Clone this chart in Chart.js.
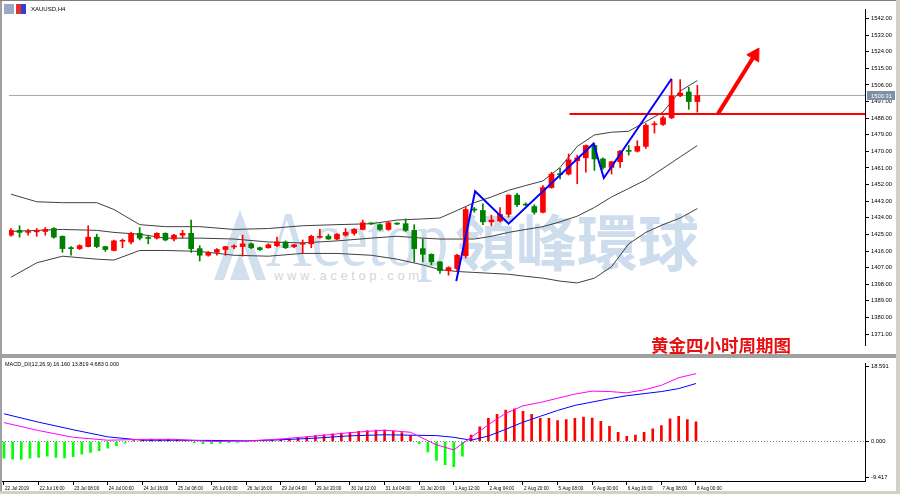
<!DOCTYPE html>
<html>
<head>
<meta charset="utf-8">
<script src="https://cdn.jsdelivr.net/npm/chart.js@4.4.1/dist/chart.umd.min.js"></script>
<style>
html, body { margin: 0; padding: 0; background: #fff; }
#wrap { position: relative; width: 900px; height: 494px; overflow: hidden; background: #fff; font-family: "Liberation Sans", Arial, sans-serif; }
canvas { position: absolute; left: 0; }
#main { top: 0; }
#macd { top: 358px; }
.abs { position: absolute; white-space: nowrap; }
</style>
</head>
<body>
<div id="wrap">
  <!-- watermark -->
  <svg class="abs" style="left:212px;top:208px" width="58" height="74">
    <polygon points="2,72 28,2 54,72 44,72 28,26 12,72" fill="#d2e0ed"/>
    <polygon points="18,72 28,44 38,72" fill="#d2e0ed"/>
  </svg>
  <div class="abs" style="left:266px;top:200px;font:78px/1 'Liberation Serif',serif;color:#d0dfed;transform:scaleX(0.81);transform-origin:0 0">Acetop</div>
  <div class="abs" style="left:455px;top:209px;font:bold 61px/1 'Noto Sans CJK TC',sans-serif;color:#cddded">領峰環球</div>
  <div class="abs" style="left:274px;top:269px;font:13px/13px 'Liberation Sans',sans-serif;letter-spacing:3.6px;color:#d6d6d6">www.acetop.com</div>

  <canvas id="main" width="900" height="354"></canvas>
  <canvas id="macd" width="900" height="136"></canvas>

  <!-- frame -->
  <div class="abs" style="left:0;top:0;width:2px;height:494px;background:#a0a0a0"></div>
  <div class="abs" style="left:0;top:0;width:900px;height:1px;background:#808080"></div>
  <div class="abs" style="left:0;top:354px;width:900px;height:4px;background:#a0a0a0"></div>
  <div class="abs" style="left:0;top:491px;width:900px;height:3px;background:#d4d0c8"></div>
  <div class="abs" style="left:896px;top:0;width:4px;height:494px;background:#d4d0c8"></div>

  <!-- title, labels -->
  <div class="abs" style="left:4px;top:4px;width:10px;height:10px;background:#9aa9c8"></div>
  <div class="abs" style="left:16px;top:4px;width:10px;height:10px;background:linear-gradient(90deg,#e03030 50%,#3040d0 50%)"></div>
  <div class="abs" style="left:31px;top:5px;font:6px/8px 'Liberation Sans',sans-serif;color:#000">XAUUSD,H4</div>
  <div class="abs" style="left:5px;top:361px;font:5.5px/7px 'Liberation Sans',sans-serif;color:#000">MACD_DI(12,26,9) 16.160 13.819 4.683 0.000</div>
  <div class="abs" style="left:651px;top:335px;font:bold 17.5px/20px 'Noto Sans CJK SC',sans-serif;color:#e81010">黄金四小时周期图</div>
</div>

<script>
// candles, H4, index 0 = 22 Jul 2019 00:00
const opens  = [1424.6,1427.2,1426.1,1426.4,1426.6,1428.2,1424.0,1417.8,1417.3,1418.4,1423.5,1418.4,1416.3,1421.3,1420.9,1425.6,1423.1,1423.0,1425.6,1422.5,
                1424.6,1425.6,1417.3,1413.7,1415.3,1416.8,1418.2,1418.4,1419.9,1417.8,1417.8,1418.9,1420.9,1418.4,1419.7,1419.9,1423.4,1424.0,1422.5,1424.6,
                1425.6,1427.7,1430.9,1430.3,1427.7,1430.9,1430.8,1427.2,1417.3,1414.2,1410.1,1405.4,1406.5,1413.5,1438.6,1438.0,1431.8,1432.3,1435.9,1446.3,
                1441.2,1440.1,1437.0,1450.4,1457.9,1457.7,1464.9,1466.5,1473.2,1465.9,1461.3,1464.4,1470.3,1470.1,1472.7,1484.4,1484.6,1488.2,1500.1,1502.2,1497.0];
const highs  = [1428.2,1429.7,1427.7,1428.2,1428.7,1428.7,1424.2,1418.4,1419.4,1429.7,1425.1,1418.6,1422.0,1422.5,1426.1,1428.7,1424.6,1425.9,1425.9,1425.1,
                1427.2,1432.8,1418.9,1415.8,1417.3,1418.6,1419.4,1424.6,1420.4,1418.2,1419.9,1423.5,1421.5,1419.6,1422.0,1424.6,1427.7,1425.1,1425.4,1428.2,
                1428.2,1432.8,1431.3,1430.8,1431.8,1431.3,1433.4,1430.3,1422.5,1414.5,1410.3,1407.5,1414.2,1439.6,1439.6,1441.6,1435.4,1439.6,1446.5,1447.3,
                1442.1,1441.1,1451.5,1458.7,1460.8,1468.6,1468.0,1473.5,1474.2,1466.5,1464.6,1470.6,1473.2,1475.8,1485.1,1486.1,1489.2,1508.9,1508.9,1504.7,1505.8];
const lows   = [1424.0,1423.5,1424.6,1424.0,1424.6,1423.0,1415.3,1413.7,1416.8,1418.2,1417.8,1415.8,1416.0,1417.8,1419.9,1422.0,1419.9,1422.5,1421.5,1421.5,
                1423.0,1415.3,1410.6,1413.2,1413.7,1413.7,1417.3,1413.2,1417.3,1416.3,1417.5,1418.4,1417.3,1417.8,1414.7,1417.8,1423.0,1422.3,1422.2,1424.0,
                1424.6,1427.4,1430.3,1427.2,1427.2,1430.3,1426.6,1410.1,1410.1,1408.5,1403.9,1402.9,1404.9,1412.2,1437.0,1430.3,1429.7,1431.8,1434.4,1440.1,
                1440.6,1435.9,1436.7,1450.0,1455.1,1457.2,1452.5,1458.7,1459.7,1460.3,1457.7,1461.3,1468.0,1469.6,1471.6,1479.9,1484.1,1487.7,1499.6,1492.8,1491.3];
const closes = [1427.2,1426.1,1426.6,1426.8,1427.7,1423.5,1417.3,1417.3,1418.9,1423.5,1418.4,1416.8,1421.5,1421.6,1425.6,1423.0,1422.8,1425.6,1422.0,1424.6,
                1425.6,1417.3,1413.7,1415.3,1416.8,1418.4,1418.5,1419.9,1417.8,1416.8,1419.4,1420.9,1417.8,1419.4,1420.0,1424.0,1423.7,1422.5,1425.1,1426.1,
                1427.7,1431.3,1430.7,1427.7,1431.3,1430.6,1427.2,1417.3,1414.2,1410.1,1405.4,1407.0,1413.7,1438.5,1438.2,1431.8,1432.8,1435.9,1446.3,1441.1,
                1440.9,1437.0,1450.4,1457.7,1457.4,1465.4,1466.5,1473.2,1465.9,1461.3,1464.4,1470.1,1470.0,1472.7,1484.1,1484.8,1488.2,1500.1,1501.6,1497.0,1500.31];
const lastPrice = 1500.31;

// bollinger bands
const bbIdx   = [0,3,6,10,12,15,18,22,26,30,34,38,42,45,48,50,52,54,56,58,60,62,64,66,68,70,72,74,76,78,80];
const bbUpper = [1446.8,1442.7,1442.2,1442.2,1438.5,1430.3,1429.2,1429.2,1427.7,1428.2,1429.7,1430.3,1430.8,1432.8,1433.4,1433.9,1438.0,1442.2,1445.3,1448.9,1451.5,1454.0,1461.3,1472.7,1478.9,1480.4,1480.9,1486.1,1491.3,1502.7,1508.4];
const bbMid   = [1426.6,1427.2,1427.7,1427.2,1426.1,1425.1,1423.0,1423.0,1422.5,1420.9,1420.4,1421.5,1423.0,1424.0,1423.0,1422.5,1422.5,1422.5,1424.0,1426.1,1427.7,1429.2,1431.8,1434.9,1439.6,1445.3,1449.9,1454.6,1460.8,1467.0,1473.2];
const bbLower = [1401.8,1409.6,1413.2,1411.6,1411.1,1416.3,1416.3,1415.8,1413.7,1413.2,1414.7,1414.7,1413.7,1411.6,1408.5,1405.9,1404.9,1404.4,1403.9,1403.4,1402.3,1401.3,1399.7,1398.7,1401.3,1407.5,1419.9,1426.1,1430.3,1433.9,1439.0];

// hand drawn marks
const zigIdx   = [51.9, 54.1, 58.0, 67.9, 69.1, 77.0];
const zigPrice = [1399.7, 1448.4, 1430.8, 1474.2, 1455.6, 1509.4];
const levelIdx = [65.1, 99.6];
const levelPrice = 1490.3;
const arrowIdx   = [82.4, 86.7];
const arrowPrice = [1490.3, 1522.3];

// MACD pane
const macdHist = [-4.0,-4.2,-4.3,-4.0,-3.8,-3.5,-3.8,-3.9,-3.6,-3.0,-2.6,-2.2,-1.6,-1.0,-0.4,0.2,0.4,0.6,0.5,0.6,
                  0.4,0.2,-0.3,-0.5,-0.5,-0.4,-0.3,-0.2,-0.1,0.1,0.2,0.3,0.5,0.7,0.9,1.1,1.4,1.6,1.8,2.0,
                  2.2,2.4,2.6,2.7,2.7,2.5,2.1,1.4,-0.5,-2.5,-4.5,-5.5,-6.0,-3.5,1.5,3.5,5.5,6.5,7.5,7.8,
                  7.2,6.5,5.5,5.5,5.0,5.2,5.5,5.8,5.6,4.8,3.6,2.2,1.2,1.5,2.2,3.0,3.8,5.4,6.0,5.2,4.683];
const macdIdx    = [0,4,8,12,16,20,24,28,32,36,40,44,47,50,52,54,56,58,60,62,64,66,68,70,72,74,76,78,80];
const macdMain   = [4.5,2.6,1.0,0.3,0.5,0.5,0.0,0.1,0.6,1.3,2.1,2.7,2.2,-0.8,-2.0,1.0,4.0,6.7,8.5,9.3,10.3,11.3,12.0,11.9,11.6,12.3,13.4,15.2,16.16];
const macdSignal = [6.6,4.6,2.8,1.1,0.3,0.3,0.25,0.15,0.4,0.8,1.35,1.6,1.5,1.4,1.0,0.3,1.3,2.9,4.6,6.0,7.4,8.6,9.4,10.2,10.9,11.4,11.9,12.6,13.819];
const macdMin = -9.417, macdMax = 18.591;
const macdTickLabels = ['-9.417', '0.000', '18.591'];

const xTickIdx = [0,4,8,12,16,20,24,28,32,36,40,44,48,52,56,60,64,68,72,76,80];
const xLabels = ['22 Jul 2019','22 Jul 16:00','23 Jul 08:00','24 Jul 00:00','24 Jul 16:00','25 Jul 08:00','26 Jul 00:00',
                 '26 Jul 16:00','29 Jul 04:00','29 Jul 20:00','30 Jul 12:00','31 Jul 04:00','31 Jul 20:00','1 Aug 12:00',
                 '2 Aug 04:00','2 Aug 20:00','5 Aug 08:00','6 Aug 00:00','6 Aug 16:00','7 Aug 08:00','8 Aug 00:00'];
const priceTicks = [1371,1380,1389,1398,1407,1416,1425,1434,1443,1452,1461,1470,1479,1488,1497,1506,1515,1524,1533,1542];

const X_MIN = -0.23, X_MAX = 99.54;
const UP = '#ff0000', DOWN = '#008000';
const FONT = "'Liberation Sans', Arial, sans-serif";

const pts = (xs, ys) => xs.map((x, i) => ({ x: x, y: Array.isArray(ys) ? ys[i] : ys }));
const isUp = i => closes[i] >= opens[i];

const bodies = opens.map((o, i) => ({ x: i, y: [o, closes[i]] }));
const wicks = opens.map((o, i) => ({ x: i, y: [lows[i], highs[i]] }));

const priceBox = {
    id: 'priceBox',
    afterDraw(chart) {
        const c = chart.ctx, a = chart.chartArea;
        const y = chart.scales.y.getPixelForValue(lastPrice);
        c.save();
        c.fillStyle = '#7d90a8';
        c.fillRect(a.right + 2, y - 4.5, 28, 9);
        c.fillStyle = '#fff';
        c.font = '5.8px ' + FONT;
        c.textBaseline = 'middle';
        c.fillText(lastPrice.toFixed(2), a.right + 6, y + 0.5);
        c.restore();
    }
};

Chart.defaults.font.family = FONT;

// 1. main price pane
new Chart(document.getElementById('main'), {
    type: 'bar',
    data: {
        datasets: [
            { type: 'line', data: pts(zigIdx, zigPrice), borderColor: '#0000ff', borderWidth: 2, pointRadius: 0, order: 0 },
            { type: 'line', data: pts(levelIdx, levelPrice), borderColor: '#ff0000', borderWidth: 2, pointRadius: 0, order: 0 },
            { type: 'line', data: pts(arrowIdx, arrowPrice), borderColor: '#ff0000', backgroundColor: '#ff0000', borderWidth: 4,
              pointStyle: 'triangle', pointRadius: [0, 8], pointRotation: 31, pointBorderWidth: 1, order: 0 },
            { data: bodies, backgroundColor: ctx => isUp(ctx.dataIndex) ? UP : DOWN, barThickness: 5, minBarLength: 1, grouped: false, order: 1 },
            { data: wicks, backgroundColor: ctx => isUp(ctx.dataIndex) ? UP : DOWN, barThickness: 1, grouped: false, order: 2 },
            { type: 'line', data: pts(bbIdx, bbUpper), borderColor: '#404040', borderWidth: 1, pointRadius: 0, order: 3 },
            { type: 'line', data: pts(bbIdx, bbMid), borderColor: '#404040', borderWidth: 1, pointRadius: 0, order: 3 },
            { type: 'line', data: pts(bbIdx, bbLower), borderColor: '#404040', borderWidth: 1, pointRadius: 0, order: 3 },
            { type: 'line', data: pts([X_MIN, X_MAX], lastPrice), borderColor: '#a8a8a8', borderWidth: 1, pointRadius: 0, order: 4 }
        ]
    },
    options: {
        responsive: false,
        animation: false,
        devicePixelRatio: 1,
        layout: { padding: { left: 2, top: 2, right: 0, bottom: 0 } },
        plugins: { legend: { display: false }, tooltip: { enabled: false } },
        scales: {
            x: { type: 'linear', min: X_MIN, max: X_MAX, offset: false, display: false, grid: { offset: false } },
            y: {
                position: 'right', min: 1365.07, max: 1547.17,
                afterBuildTicks: s => { s.ticks = priceTicks.map(v => ({ value: v })); },
                afterFit: s => { s.width = 35; },
                ticks: { callback: v => v.toFixed(2), color: '#000', font: { size: 5.8 }, padding: 2, autoSkip: false },
                grid: { drawOnChartArea: false, tickLength: 4, tickColor: '#000' },
                border: { color: '#000' }
            }
        }
    },
    plugins: [priceBox]
});

// 2. MACD pane
new Chart(document.getElementById('macd'), {
    type: 'bar',
    data: {
        datasets: [
            { type: 'line', data: pts(macdIdx, macdMain), borderColor: '#ff00ff', borderWidth: 1, pointRadius: 0, order: 0 },
            { type: 'line', data: pts(macdIdx, macdSignal), borderColor: '#0000ff', borderWidth: 1, pointRadius: 0, order: 0 },
            { data: macdHist.map((v, i) => ({ x: i, y: v })), backgroundColor: ctx => (ctx.raw && ctx.raw.y >= 0) ? '#ff0000' : '#00ff00',
              barThickness: 2, grouped: false, order: 1 },
            { type: 'line', data: pts([X_MIN, X_MAX], 0), borderColor: '#808080', borderWidth: 1, borderDash: [1, 2], pointRadius: 0, order: 2 }
        ]
    },
    options: {
        responsive: false,
        animation: false,
        devicePixelRatio: 1,
        layout: { padding: { left: 2, top: 1, right: 0, bottom: 0 } },
        plugins: { legend: { display: false }, tooltip: { enabled: false } },
        scales: {
            x: {
                type: 'linear', min: X_MIN, max: X_MAX, offset: false,
                afterBuildTicks: s => { s.ticks = xTickIdx.map(v => ({ value: v })); },
                afterFit: s => { s.height = 13; },
                ticks: { callback: (v, i) => xLabels[i], align: 'start', labelOffset: 1, maxRotation: 0, minRotation: 0,
                         autoSkip: false, color: '#000', font: { size: 4.6 }, padding: 1 },
                grid: { drawOnChartArea: false, offset: false, tickLength: 4, tickColor: '#000' },
                border: { color: '#000' }
            },
            y: {
                position: 'right', min: macdMin, max: macdMax,
                afterBuildTicks: s => { s.ticks = [macdMin + 0.9, 0, macdMax - 0.75].map(v => ({ value: v })); },
                afterFit: s => { s.width = 35; },
                ticks: { callback: (v, i) => macdTickLabels[i], color: '#000', font: { size: 5.8 }, padding: 2, autoSkip: false },
                grid: { drawOnChartArea: false, tickLength: 4, tickColor: '#000' },
                border: { color: '#000' }
            }
        }
    }
});
</script>
</body>
</html>
